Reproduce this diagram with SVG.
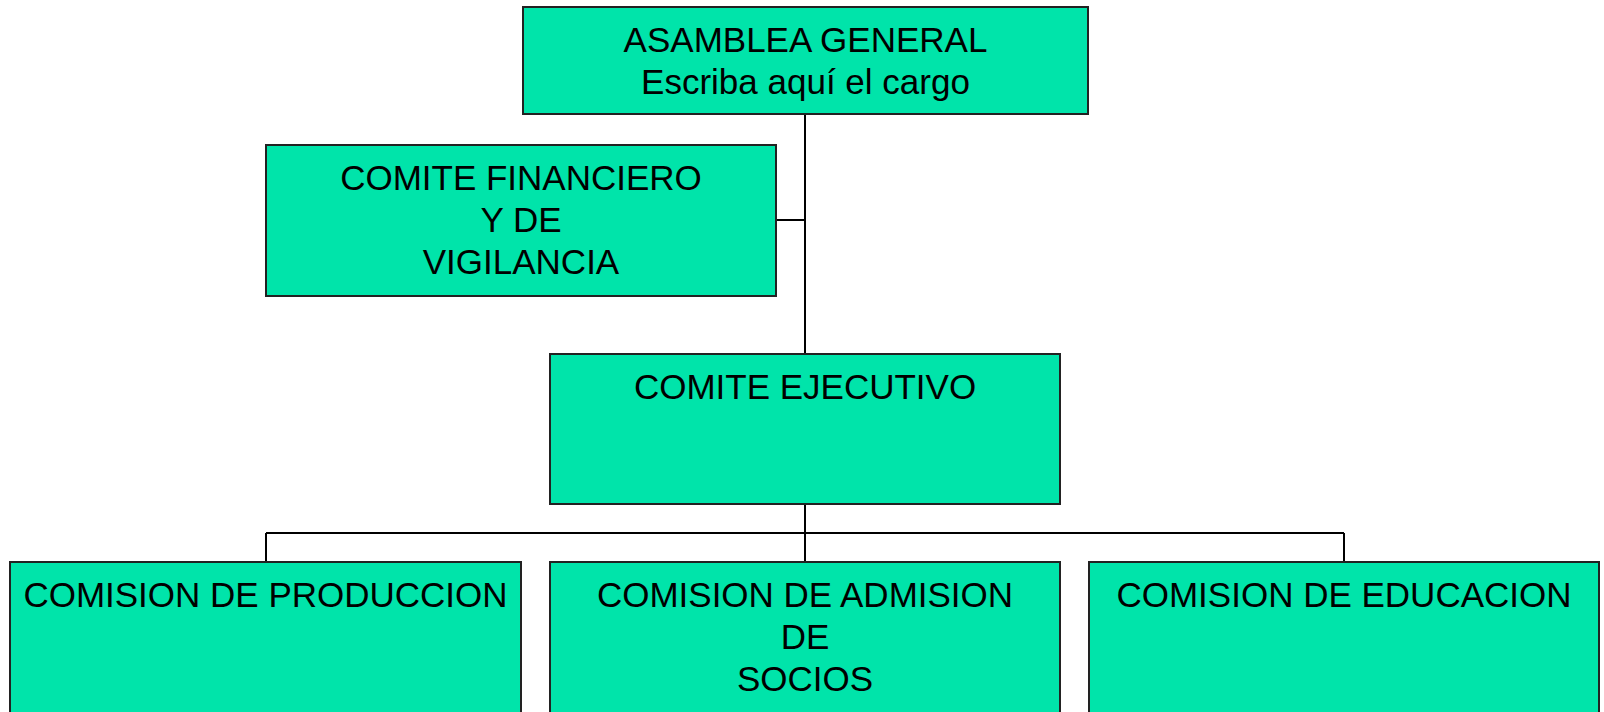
<svg xmlns="http://www.w3.org/2000/svg" width="1604" height="712" viewBox="0 0 1604 712">
<style>
.box{fill:#00e4aa;stroke:#222;stroke-width:2}
.t{font-family:"Liberation Sans",Arial,sans-serif;font-size:35px;fill:#000;text-anchor:middle}
.c{stroke:#000;stroke-width:2;fill:none}
</style>
<rect width="1604" height="712" fill="#fff"/>
<g id="connectors">
<path class="c" d="M805 114V354M776 220H805M805 504V562M266 533H1344M266 533V562M1344 533V562"/>
</g>
<g id="asamblea">
<rect class="box" x="523" y="7" width="565" height="107"/>
<text class="t" x="805.5" y="52">ASAMBLEA GENERAL</text>
<text class="t" x="805.5" y="94">Escriba aquí el cargo</text>
</g>
<g id="financiero">
<rect class="box" x="266" y="145" width="510" height="151"/>
<text class="t" x="521" y="190">COMITE FINANCIERO</text>
<text class="t" x="521" y="232">Y DE</text>
<text class="t" x="521" y="274">VIGILANCIA</text>
</g>
<g id="ejecutivo">
<rect class="box" x="550" y="354" width="510" height="150"/>
<text class="t" x="805" y="399">COMITE EJECUTIVO</text>
</g>
<g id="produccion">
<rect class="box" x="10" y="562" width="511" height="160"/>
<text class="t" x="265.5" y="607">COMISION DE PRODUCCION</text>
</g>
<g id="admision">
<rect class="box" x="550" y="562" width="510" height="160"/>
<text class="t" x="805" y="607">COMISION DE ADMISION</text>
<text class="t" x="805" y="649">DE</text>
<text class="t" x="805" y="691">SOCIOS</text>
</g>
<g id="educacion">
<rect class="box" x="1089" y="562" width="510" height="160"/>
<text class="t" x="1344" y="607">COMISION DE EDUCACION</text>
</g>
</svg>
